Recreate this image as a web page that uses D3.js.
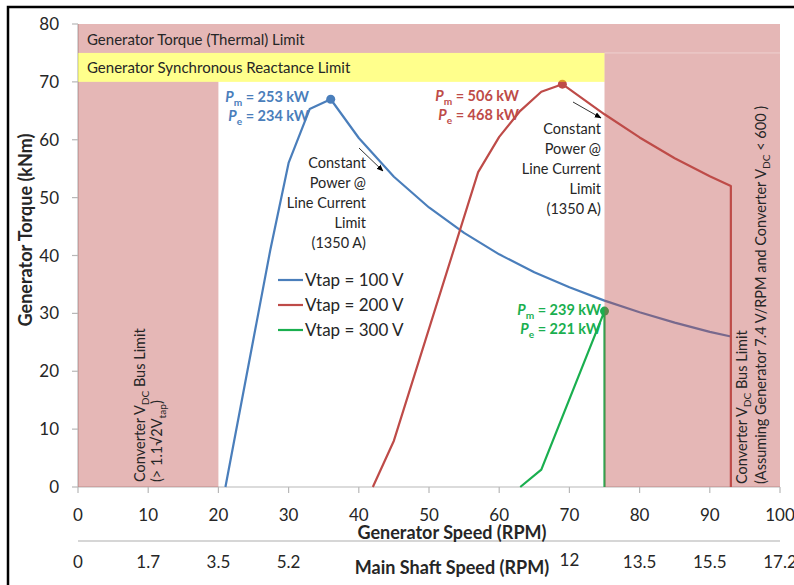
<!DOCTYPE html>
<html>
<head>
<meta charset="utf-8">
<script src="https://cdn.jsdelivr.net/npm/d3@7"></script>
<style>
  body { margin: 0; background: #fff; }
  svg { display: block; }
  text { font-family: Lato, "Open Sans", "DejaVu Sans", sans-serif; }
</style>
</head>
<body>
<svg id="chart" width="794" height="585"></svg>
<script>
// ---- data ----
const speedTicks = [0, 10, 20, 30, 40, 50, 60, 70, 80, 90, 100];
const torqueTicks = [0, 10, 20, 30, 40, 50, 60, 70, 80];
const shaftTickAt = [0, 10, 20, 30, 70, 80, 90, 100];
const shaftTickLabels = ["0", "1.7", "3.5", "5.2", "12", "13.5", "15.5", "17.2"];

const seriesNames = ["Vtap = 100 V", "Vtap = 200 V", "Vtap = 300 V"];
const seriesColors = ["#4a7ebb", "#be4b48", "#1aaf4f"];

// generator speed (RPM) / torque (kNm) per tap voltage
const speed100 = [21, 27.4, 30, 33, 36, 40, 45, 50, 55, 60, 65, 70, 75, 80, 85, 90, 93];
const torque100 = [0, 41, 56, 65.3, 67, 60.3, 53.6, 48.3, 43.9, 40.2, 37.1, 34.5, 32.2, 30.2, 28.4, 26.8, 26];
const speed200 = [42, 45, 57, 60, 63, 66, 69, 75, 80, 85, 90, 93, 93];
const torque200 = [0, 8, 54.4, 60.5, 65, 68.3, 69.6, 64.4, 60.4, 56.8, 53.7, 52, 0];
const speed300 = [63, 66, 75, 75];
const torque300 = [0, 3, 30.4, 0];

// rated-point markers: speed, torque, mechanical / electrical power (kW)
const peakSpeed = [36, 69, 75];
const peakTorque = [67, 69.6, 30.4];
const peakPm = [253, 506, 239];
const peakPe = [234, 468, 221];

// operating limit zones: [speed0, speed1, torque0, torque1]
const thermalZone = [0, 100, 75, 80];
const reactanceZone = [0, 75, 70, 75];
const rightVdcZone = [75, 100, 0, 75];
const leftVdcZone = [0, 20, 0, 70];

// ---- layout ----
const svg = d3.select("#chart");
const x = d3.scaleLinear().domain([0, 100]).range([78, 780]);
const y = d3.scaleLinear().domain([0, 80]).range([487, 24]);
const axisGray = "#b8b8b8";
const textDark = "#262626";

// outer frame
svg.append("path")
  .attr("d", "M8,600 L8,7 L800,7")
  .attr("fill", "none").attr("stroke", "#000").attr("stroke-width", 2.5);

// axes
svg.append("line").attr("x1", x(0)).attr("x2", x(100)).attr("y1", y(0)).attr("y2", y(0))
  .attr("stroke", axisGray).attr("stroke-width", 1.2);
svg.append("line").attr("x1", x(0)).attr("x2", x(0)).attr("y1", y(0)).attr("y2", y(80))
  .attr("stroke", axisGray).attr("stroke-width", 1.2);
svg.selectAll(".xt").data(speedTicks).join("line")
  .attr("x1", d => x(d)).attr("x2", d => x(d)).attr("y1", y(0)).attr("y2", y(0) + 6)
  .attr("stroke", axisGray).attr("stroke-width", 1.2);
svg.selectAll(".yt").data(torqueTicks).join("line")
  .attr("x1", x(0) - 6).attr("x2", x(0)).attr("y1", d => y(d)).attr("y2", d => y(d))
  .attr("stroke", axisGray).attr("stroke-width", 1.2);

svg.selectAll(".xl").data(speedTicks).join("text")
  .attr("x", d => x(d)).attr("y", 521).attr("text-anchor", "middle")
  .attr("font-size", 17).attr("fill", textDark).text(d => d);
svg.selectAll(".yl").data(torqueTicks).join("text")
  .attr("x", 59).attr("y", d => y(d) + 6).attr("text-anchor", "end")
  .attr("font-size", 17).attr("fill", textDark).text(d => d);

// secondary (main shaft) scale
svg.append("line").attr("x1", x(0)).attr("x2", x(100)).attr("y1", 541).attr("y2", 541)
  .attr("stroke", "#c8c8c8").attr("stroke-width", 1.5);
svg.selectAll(".sl").data(shaftTickAt).join("text")
  .attr("x", d => x(d)).attr("y", (d, i) => shaftTickLabels[i] === "12" ? 566 : 568)
  .attr("text-anchor", "middle").attr("font-size", 17).attr("fill", textDark)
  .text((d, i) => shaftTickLabels[i]);

svg.append("text").attr("x", 452).attr("y", 539).attr("text-anchor", "middle")
  .attr("font-size", 18).attr("font-weight", "bold").attr("fill", textDark)
  .text("Generator Speed (RPM)");
svg.append("text").attr("x", 452).attr("y", 574).attr("text-anchor", "middle")
  .attr("font-size", 18).attr("font-weight", "bold").attr("fill", textDark)
  .text("Main Shaft Speed (RPM)");
svg.append("text").attr("transform", "translate(32,230) rotate(-90)").attr("text-anchor", "middle")
  .attr("font-size", 18).attr("font-weight", "bold").attr("fill", textDark)
  .text("Generator Torque (kNm)");

// series lines
const line = d3.line().x(d => x(d[0])).y(d => y(d[1]));
const series = [
  d3.zip(speed100, torque100),
  d3.zip(speed200, torque200),
  d3.zip(speed300, torque300)
];
svg.selectAll(".series").data(series).join("path")
  .attr("d", line).attr("fill", "none")
  .attr("stroke", (d, i) => seriesColors[i]).attr("stroke-width", 2.2)
  .attr("stroke-linejoin", "round");
svg.selectAll(".peak").data(peakSpeed).join("circle")
  .attr("cx", d => x(d)).attr("cy", (d, i) => y(peakTorque[i])).attr("r", 4.5)
  .attr("fill", (d, i) => seriesColors[i]);

// translucent limit zones over the curves
function zone(z, color, op) {
  svg.append("rect")
    .attr("x", x(z[0])).attr("width", x(z[1]) - x(z[0]))
    .attr("y", y(z[3])).attr("height", y(z[2]) - y(z[3]))
    .attr("fill", color).attr("fill-opacity", op);
}
zone(thermalZone, "#be4b48", 0.4);
zone(reactanceZone, "#ffff00", 0.45);
zone(rightVdcZone, "#be4b48", 0.4);
zone(leftVdcZone, "#be4b48", 0.4);
svg.append("line").attr("x1", x(75)).attr("x2", x(100)).attr("y1", y(75)).attr("y2", y(75))
  .attr("stroke", "#fff").attr("stroke-opacity", 0.35).attr("stroke-width", 1);

svg.append("text").attr("x", 87).attr("y", 45).attr("font-size", 15).attr("fill", textDark)
  .text("Generator Torque (Thermal) Limit");
svg.append("text").attr("x", 87).attr("y", 73).attr("font-size", 15).attr("fill", textDark)
  .text("Generator Synchronous Reactance Limit");

// rich text helper: segments of [text, style] with style "sub" or "i";
// subscripts are lowered with dy and the baseline restored afterwards
function rich(sel, parts, size) {
  const drop = size * 0.28;
  let lowered = false;
  parts.forEach(p => {
    const t = sel.append("tspan").text(p[0]);
    if (p[1] === "i") t.attr("font-style", "italic");
    if (p[1] === "sub") {
      t.attr("font-size", size * 0.7).attr("dy", drop);
      lowered = true;
    } else if (lowered) {
      t.attr("dy", -drop);
      lowered = false;
    }
  });
  return sel;
}

// rated power labels
const labelEnd = [309, 519, 601];
const labelTop = [102, 101, 315];
peakSpeed.forEach((s, i) => {
  const g = svg.append("g").attr("fill", seriesColors[i]).attr("font-weight", "bold")
    .attr("font-size", 14.5).attr("text-anchor", "end");
  rich(g.append("text").attr("x", labelEnd[i]).attr("y", labelTop[i]),
       [["P", "i"], ["m", "sub"], [" = " + peakPm[i] + " kW"]], 14.5);
  rich(g.append("text").attr("x", labelEnd[i]).attr("y", labelTop[i] + 19),
       [["P", "i"], ["e", "sub"], [" = " + peakPe[i] + " kW"]], 14.5);
});

// constant power annotations
svg.append("defs").append("marker").attr("id", "arr")
  .attr("viewBox", "0 0 10 10").attr("refX", 9).attr("refY", 5)
  .attr("markerWidth", 7).attr("markerHeight", 7).attr("orient", "auto")
  .append("path").attr("d", "M0,1 L10,5 L0,9 Z").attr("fill", "#000");
const noteLines = ["Constant", "Power @", "Line Current", "Limit", "(1350 A)"];
[[366, 168, 359, 148, 383, 171], [601, 134, 573, 102, 601, 118]].forEach(n => {
  const t = svg.append("text").attr("text-anchor", "end").attr("font-size", 14.5).attr("fill", textDark);
  noteLines.forEach((l, i) => t.append("tspan").attr("x", n[0]).attr("y", n[1] + i * 20).text(l));
  svg.append("line").attr("x1", n[2]).attr("y1", n[3]).attr("x2", n[4]).attr("y2", n[5])
    .attr("stroke", "#333").attr("stroke-width", 1).attr("marker-end", "url(#arr)");
});

// legend
seriesNames.forEach((name, i) => {
  const yy = 280 + i * 25;
  svg.append("line").attr("x1", 278).attr("x2", 303).attr("y1", yy).attr("y2", yy)
    .attr("stroke", seriesColors[i]).attr("stroke-width", 2.2);
  svg.append("text").attr("x", 305).attr("y", yy + 6).attr("font-size", 17).attr("fill", textDark).text(name);
});

// vertical zone labels
function vtext(px, py, parts, size) {
  const t = svg.append("text").attr("transform", `translate(${px},${py}) rotate(-90)`)
    .attr("font-size", size).attr("fill", textDark);
  rich(t, parts, size);
}
vtext(145, 482, [["Converter V"], ["DC", "sub"], [" Bus Limit"]], 14.5);
vtext(162, 482, [["(> 1.1√2V"], ["tap", "sub"], [")"]], 14.5);
vtext(747, 484, [["Converter V"], ["DC", "sub"], [" Bus Limit"]], 14.5);
vtext(766, 484, [["(Assuming Generator 7.4 V/RPM and Converter V"], ["DC", "sub"], [" < 600 )"]], 14.5);
</script>
</body>
</html>
